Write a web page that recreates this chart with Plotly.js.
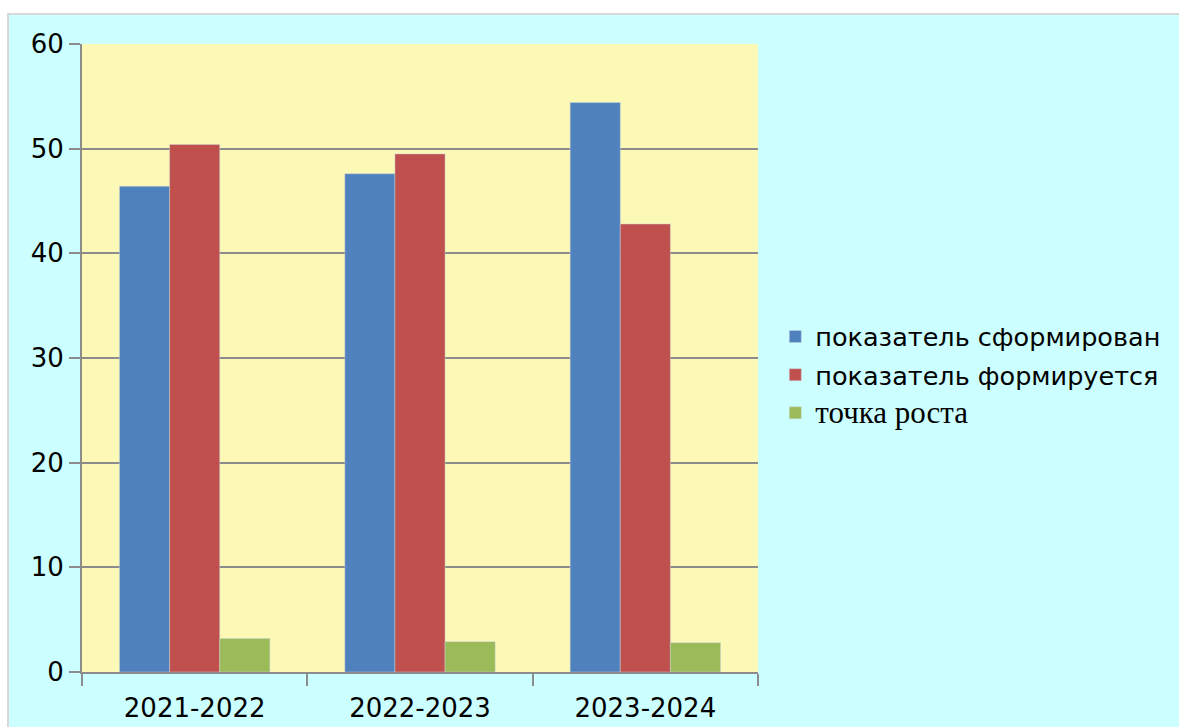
<!DOCTYPE html>
<html>
<head>
<meta charset="utf-8">
<script src="https://cdn.plot.ly/plotly-3.0.1.min.js"></script>
<style>
  html, body { margin: 0; padding: 0; background: #ffffff; width: 1179px; height: 727px; overflow: hidden; }
  #frame { position: absolute; left: 7px; top: 13px; width: 1212px; height: 714px;
           border-left: 2px solid #d8d8d8; border-top: 2px solid #d8d8d8; box-sizing: border-box; background: #ccffff; }
  #chart { width: 1210px; height: 712px; }
</style>
</head>
<body>
<div id="frame"><div id="chart"></div></div>
<script>
const categories = ["2021-2022", "2022-2023", "2023-2024"];
const seriesNames = ["показатель сформирован", "показатель формируется", "точка роста"];
const formed = [46.4, 47.6, 54.4];
const forming = [50.4, 49.5, 42.8];
const growth = [3.2, 2.9, 2.8];
const yTicks = [0, 10, 20, 30, 40, 50, 60];

const colors = ["#4f81bd", "#c0504d", "#9bbb59"];
const values = [formed, forming, growth];
const labels = [
  seriesNames[0],
  seriesNames[1],
  '<span style="font-family:\'Liberation Serif\', serif; font-size:31px">' + seriesNames[2] + '</span>'
];

const traces = values.map((v, i) => ({
  type: "bar",
  name: labels[i],
  legendgroup: "g" + i,
  x: categories,
  y: v,
  marker: { color: colors[i], line: { color: "rgba(200,210,220,0.6)", width: 0.8 } },
  hoverinfo: "x+y"
}));

const layout = {
  width: 1210, height: 712,
  margin: { l: 73, r: 461, t: 29, b: 55 },
  paper_bgcolor: "#ccffff",
  plot_bgcolor: "#fcf8b6",
  barmode: "group",
  bargap: 0.333,
  bargroupgap: 0,
  font: { family: "DejaVu Sans, sans-serif", size: 24, color: "#000000" },
  xaxis: {
    type: "category",
    tickson: "boundaries",
    ticks: "outside",
    ticklen: 12,
    tickwidth: 2,
    tickcolor: "#8c8c8c",
    showline: true,
    linecolor: "#8c8c8c",
    linewidth: 2,
    showgrid: false,
    ticklabelstandoff: 12,
    tickfont: { family: "DejaVu Sans, sans-serif", size: 26, color: "#000" }
  },
  yaxis: {
    range: [0, 60],
    tickvals: yTicks,
    ticktext: yTicks.map(String),
    ticks: "outside",
    ticklen: 11,
    tickwidth: 2,
    tickcolor: "#8c8c8c",
    showline: true,
    linecolor: "#8c8c8c",
    linewidth: 2,
    showgrid: true,
    gridcolor: "#8c8c8c",
    gridwidth: 2,
    zeroline: false,
    tickfont: { family: "DejaVu Sans, sans-serif", size: 26, color: "#000" }
  },
  showlegend: true,
  legend: {
    x: 1.0256, xanchor: "left",
    y: 0.473, yanchor: "middle",
    bgcolor: "rgba(0,0,0,0)",
    font: { family: "DejaVu Sans, sans-serif", size: 25.5, color: "#000" },
    traceorder: "grouped",
    tracegroupgap: 2,
    itemwidth: 30
  }
};

Plotly.newPlot("chart", traces, layout, { displayModeBar: false, staticPlot: true });
</script>
</body>
</html>
